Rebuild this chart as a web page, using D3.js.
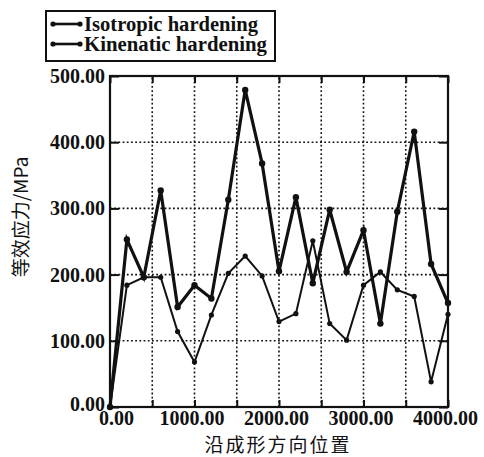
<!DOCTYPE html>
<html>
<head>
<meta charset="utf-8">
<script src="https://cdn.jsdelivr.net/npm/d3@7"></script>
<style>
  body { margin: 0; background: #fff; }
  svg { display: block; }
  text { fill: #111; }
</style>
</head>
<body>
<div id="chart"></div>
<script>
// chart data
const positions = [0, 200, 400, 600, 800, 1000, 1200, 1400, 1600, 1800, 2000,
                   2200, 2400, 2600, 2800, 3000, 3200, 3400, 3600, 3800, 4000];
const isotropic = [0, 253, 196, 327, 151, 184, 164, 313, 479, 368, 205,
                   317, 187, 298, 204, 267, 126, 295, 416, 216, 157];
const kinematic = [0, 184, 196, 196, 114, 68, 139, 202, 228, 198, 129,
                   141, 251, 126, 101, 184, 204, 177, 167, 38, 140];
const xTicks = [0, 500, 1000, 1500, 2000, 2500, 3000, 3500, 4000];
const yTicks = [0, 100, 200, 300, 400, 500];
const seriesNames = ["Isotropic hardening", "Kinenatic hardening"];

const width = 484, height = 457;
const serif = "'Liberation Serif', 'DejaVu Serif', serif";
const cjk = "'Noto Sans CJK SC', 'Noto Sans', sans-serif";

const svg = d3.select("#chart").append("svg")
    .attr("width", width)
    .attr("height", height);

const x = d3.scaleLinear().domain([0, 4000]).range([110, 448]);
const y = d3.scaleLinear().domain([0, 500]).range([407, 76]);

/**
 * Dotted grid
 */
const grid = svg.append("g")
    .attr("stroke", "#111")
    .attr("stroke-width", 1.6)
    .attr("stroke-dasharray", "1.8,2.4");

grid.selectAll("line.v")
    .data(xTicks.slice(1, -1))
    .join("line")
    .attr("class", "v")
    .attr("x1", d => x(d)).attr("x2", d => x(d))
    .attr("y1", y(0)).attr("y2", y(500));

grid.selectAll("line.h")
    .data(yTicks.slice(1, -1))
    .join("line")
    .attr("class", "h")
    .attr("x1", x(0)).attr("x2", x(4000))
    .attr("y1", d => y(d)).attr("y2", d => y(d));

/**
 * Axes - inward ticks on all four sides, labels only at bottom and left
 */
const fmt = d3.format(".2f");

const styleAxis = g => {
    g.select(".domain").remove();
    g.selectAll(".tick line").attr("stroke", "#111").attr("stroke-width", 2);
    g.selectAll(".tick text")
        .attr("font-family", serif)
        .attr("font-size", 20)
        .attr("font-weight", "bold")
        .attr("fill", "#111");
};

svg.append("g")
    .attr("transform", `translate(0,${y(0)})`)
    .call(d3.axisBottom(x).tickValues(xTicks).tickSize(-7).tickPadding(4)
        .tickFormat(d => d % 1000 === 0 ? fmt(d) : ""))
    .call(styleAxis)
    .call(g => g.selectAll(".tick text").attr("dx", d => d === 0 ? 6 : -3));

svg.append("g")
    .attr("transform", `translate(0,${y(500)})`)
    .call(d3.axisTop(x).tickValues(xTicks).tickSize(-7).tickFormat(""))
    .call(styleAxis);

svg.append("g")
    .attr("transform", `translate(${x(0)},0)`)
    .call(d3.axisLeft(y).tickValues(yTicks).tickSize(-9).tickPadding(5).tickFormat(fmt))
    .call(styleAxis)
    .call(g => g.selectAll(".tick text").filter(d => d === 0).attr("y", -3));

svg.append("g")
    .attr("transform", `translate(${x(4000)},0)`)
    .call(d3.axisRight(y).tickValues(yTicks).tickSize(-9).tickFormat(""))
    .call(styleAxis);

// frame
svg.append("rect")
    .attr("x", x(0)).attr("y", y(500))
    .attr("width", x(4000) - x(0))
    .attr("height", y(0) - y(500))
    .attr("fill", "none")
    .attr("stroke", "#111")
    .attr("stroke-width", 2.2);

/**
 * Series
 */
const series = [
    { name: seriesNames[0], values: isotropic, width: 3.2, r: 3.2, textLen: 174 },
    { name: seriesNames[1], values: kinematic, width: 2, r: 2.6, textLen: 183 }
];

const line = d3.line().x(d => x(d[0])).y(d => y(d[1]));

for (const s of series) {
    const pts = positions.map((p, i) => [p, s.values[i]]);
    svg.append("path")
        .attr("d", line(pts))
        .attr("fill", "none")
        .attr("stroke", "#111")
        .attr("stroke-width", s.width)
        .attr("stroke-linejoin", "miter");
    svg.append("g")
        .selectAll("circle")
        .data(pts)
        .join("circle")
        .attr("cx", d => x(d[0]))
        .attr("cy", d => y(d[1]))
        .attr("r", s.r)
        .attr("fill", "#111");
}

/**
 * Legend
 */
const legend = svg.append("g");
legend.append("rect")
    .attr("x", 46).attr("y", 11)
    .attr("width", 229).attr("height", 50)
    .attr("fill", "#fff")
    .attr("stroke", "#111")
    .attr("stroke-width", 2);

series.forEach((s, i) => {
    const cy = 24 + i * 20;
    legend.append("line")
        .attr("x1", 53).attr("x2", 80)
        .attr("y1", cy).attr("y2", cy)
        .attr("stroke", "#111")
        .attr("stroke-width", 2.6);
    legend.selectAll(null)
        .data([53, 80])
        .join("circle")
        .attr("cx", d => d).attr("cy", cy)
        .attr("r", 2.6)
        .attr("fill", "#111");
    legend.append("text")
        .attr("x", 84).attr("y", cy + 7)
        .attr("font-family", serif)
        .attr("font-size", 20)
        .attr("font-weight", "bold")
        .attr("textLength", s.textLen)
        .attr("lengthAdjust", "spacingAndGlyphs")
        .text(s.name);
});

/**
 * Axis titles
 */
svg.append("text")
    .attr("x", 278).attr("y", 452)
    .attr("text-anchor", "middle")
    .attr("font-family", cjk)
    .attr("font-size", 19)
    .attr("letter-spacing", 2)
    .text("沿成形方向位置");

svg.append("text")
    .attr("transform", "translate(28,217) rotate(-90)")
    .attr("text-anchor", "middle")
    .attr("font-family", cjk)
    .attr("font-size", 19)
    .text("等效应力/MPa");
</script>
</body>
</html>
